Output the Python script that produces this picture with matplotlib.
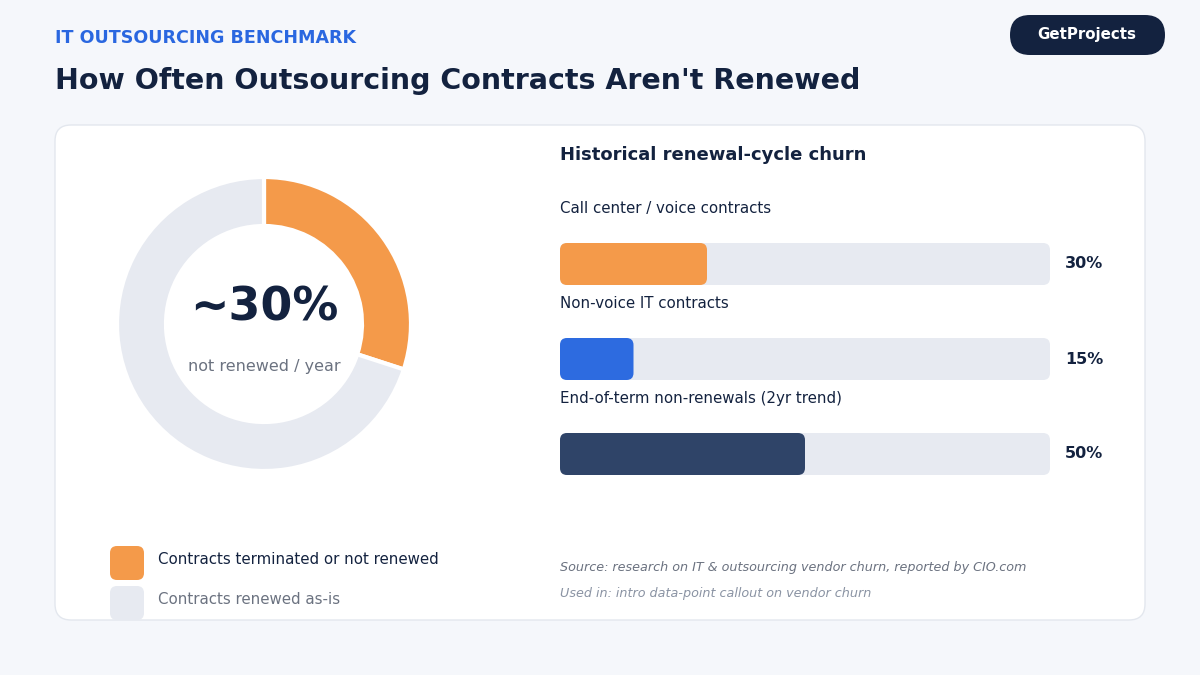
import matplotlib
matplotlib.use("Agg")
import matplotlib.pyplot as plt
from matplotlib.patches import FancyBboxPatch, Wedge

share_values = [30, 70]
share_labels = ["Contracts terminated or not renewed", "Contracts renewed as-is"]
share_colors = ["#F49A4A", "#E7EAF1"]
bar_labels = ["Call center / voice contracts", "Non-voice IT contracts", "End-of-term non-renewals (2yr trend)"]
bar_values = [30, 15, 50]
bar_colors = ["#F49A4A", "#2D6BE0", "#2F4468"]

fig = plt.figure(figsize=(12, 6.75), dpi=100)
fig.patch.set_facecolor("#F5F7FB")
ax = fig.add_axes([0, 0, 1, 1])
ax.set_xlim(0, 1200); ax.set_ylim(675, 0); ax.axis("off")

def rbox(x, y, w, h, r, fc, ec="none", lw=0, z=1):
    ax.add_patch(FancyBboxPatch((x, y), w, h, boxstyle=f"round,pad=0,rounding_size={r}",
                                fc=fc, ec=ec, lw=lw, zorder=z))

ax.text(55, 38, "IT OUTSOURCING BENCHMARK", color="#2A67E0", fontsize=12.6, fontweight="bold", va="center")
ax.text(55, 81, "How Often Outsourcing Contracts Aren't Renewed", color="#13223F", fontsize=20.5, fontweight="bold", va="center")
rbox(1010, 15, 155, 40, 20, "#13223F", z=2)
ax.text(1087, 35, "GetProjects", color="white", fontsize=10.8, fontweight="bold", ha="center", va="center", zorder=3)

rbox(55, 125, 1090, 495, 16, "white", ec="#E3E7EE", lw=1)

# donut
cx, cy, R, w = 264, 324, 147, 49
total = sum(share_values)
start = 90
for v, c in zip(share_values, share_colors):
    span = 360 * v / total
    ax.add_patch(Wedge((cx, cy), R, -start, -start + span, width=w, fc=c, ec="white", lw=3, zorder=2))
    start -= span
ax.text(cx, 308, f"~{share_values[0]}%", fontsize=33, fontweight="bold", color="#13223F", ha="center", va="center", zorder=3)
ax.text(cx, 366, "not renewed / year", fontsize=11.5, color="#6B7280", ha="center", va="center", zorder=3)

# legend
for i, (lab, c) in enumerate(zip(share_labels, share_colors)):
    y = 563 + 40 * i
    rbox(110, y - 17, 34, 34, 7, c, z=2)
    ax.text(158, y - 4, lab, fontsize=10.8, color="#13223F" if i == 0 else "#6B7280", va="center")

# bars
ax.text(560, 155, "Historical renewal-cycle churn", fontsize=13, fontweight="bold", color="#13223F", va="center")
x0, W, H = 560, 490, 42
for i, (lab, v, c) in enumerate(zip(bar_labels, bar_values, bar_colors)):
    yc = 264 + 95 * i
    ax.text(x0, yc - 55, lab, fontsize=10.8, color="#13223F", va="center")
    rbox(x0, yc - H / 2, W, H, 7, "#E7EAF1", z=2)
    rbox(x0, yc - H / 2, W * v / 100, H, 7, c, z=3)
    ax.text(1065, yc, f"{v}%", fontsize=11.5, fontweight="bold", color="#13223F", va="center")

ax.text(560, 567, "Source: research on IT & outsourcing vendor churn, reported by CIO.com", fontsize=9.2,
        style="italic", color="#6B7280", va="center")
ax.text(560, 594, "Used in: intro data-point callout on vendor churn", fontsize=9.2, style="italic",
        color="#8A93A3", va="center")

fig.savefig("out.png", dpi=100, facecolor=fig.get_facecolor())
